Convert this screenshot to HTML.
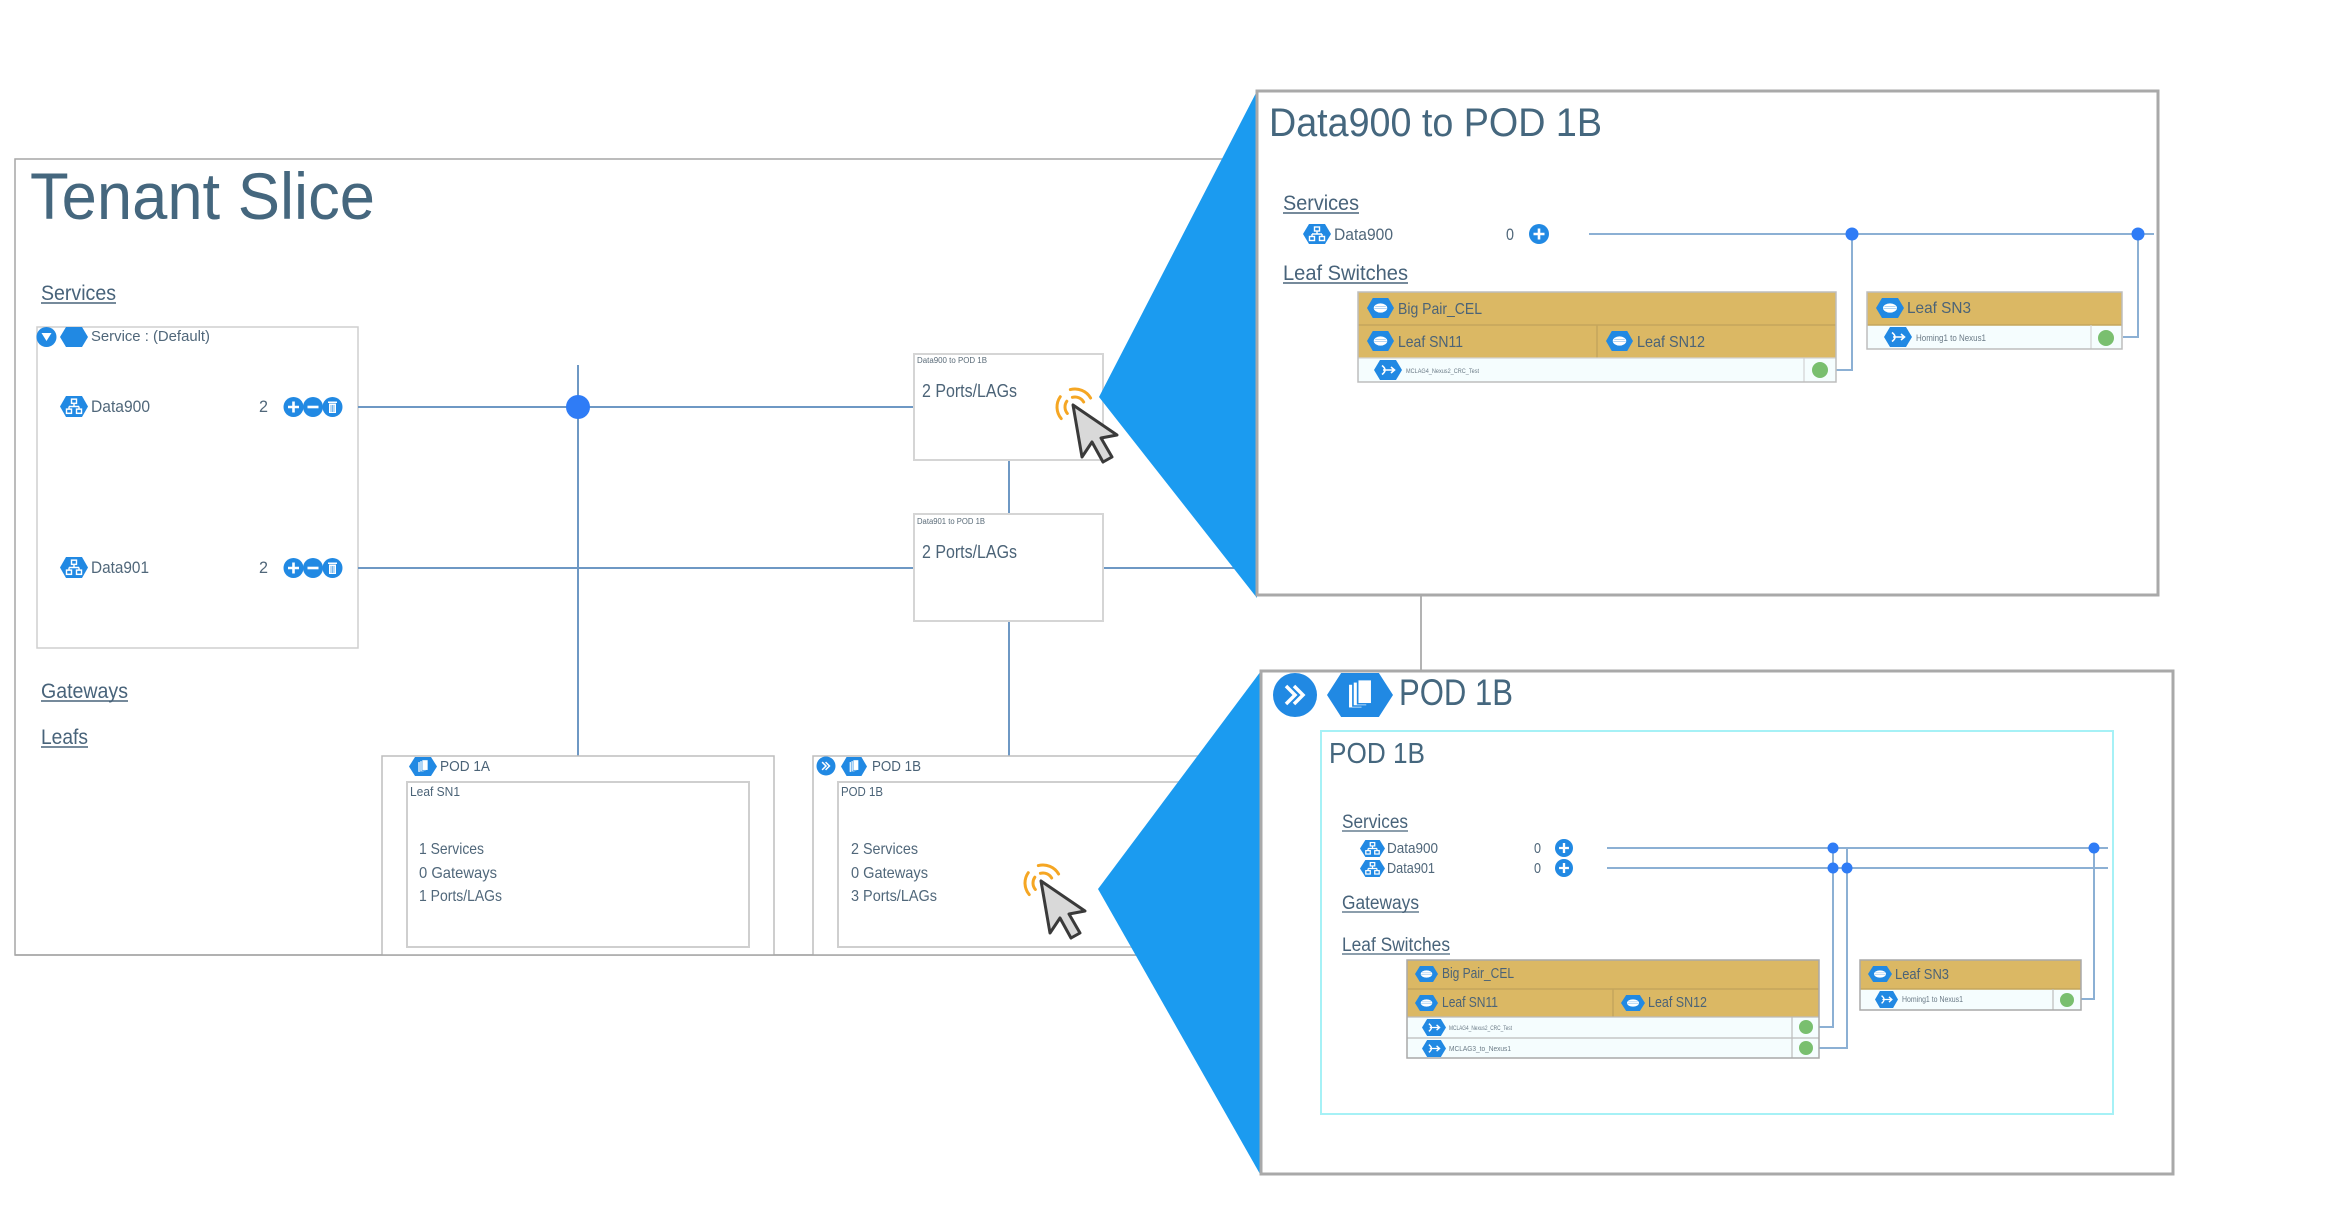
<!DOCTYPE html>
<html>
<head>
<meta charset="utf-8">
<style>
html,body{margin:0;padding:0;background:#fff;}
svg{display:block;}
text{font-family:"Liberation Sans",sans-serif;}
</style>
</head>
<body>
<svg width="2329" height="1210" viewBox="0 0 2329 1210" xmlns="http://www.w3.org/2000/svg">
<defs>
  <symbol id="hx" viewBox="0 0 28 20" preserveAspectRatio="none">
    <polygon points="0,10 6,0 22,0 28,10 22,20 6,20" fill="#2189e3"/>
  </symbol>
  <symbol id="net" viewBox="0 0 28 20" preserveAspectRatio="none">
    <polygon points="0,10 6,0 22,0 28,10 22,20 6,20" fill="#2189e3"/>
    <g fill="none" stroke="#fff" stroke-width="1.4">
      <rect x="11.5" y="3" width="5" height="4"/>
      <rect x="6.5" y="12.5" width="5" height="4"/>
      <rect x="16.5" y="12.5" width="5" height="4"/>
      <path d="M14 7V10M9 10H19M9 10V12.5M19 10V12.5"/>
    </g>
  </symbol>
  <symbol id="disk" viewBox="0 0 28 20" preserveAspectRatio="none">
    <polygon points="0,10 6,0 22,0 28,10 22,20 6,20" fill="#2189e3"/>
    <ellipse cx="14" cy="10" rx="7" ry="4.6" fill="#fff"/>
    <path d="M7.5 10.5H20.5M8.5 8.5H19.5" stroke="#9cc8f0" stroke-width=".8"/>
  </symbol>
  <symbol id="port" viewBox="0 0 28 20" preserveAspectRatio="none">
    <polygon points="0,10 6,0 22,0 28,10 22,20 6,20" fill="#2189e3"/>
    <path d="M8 5.5Q14 10 8 14.5M9 10H20M17 7L20.5 10L17 13" fill="none" stroke="#fff" stroke-width="1.6"/>
  </symbol>
  <symbol id="pod" viewBox="0 0 28 20" preserveAspectRatio="none">
    <polygon points="0,10 6,0 22,0 28,10 22,20 6,20" fill="#2189e3"/>
    <g fill="#fff" stroke="#2189e3" stroke-width=".7">
      <rect x="9" y="5" width="6" height="11"/>
      <rect x="11" y="4" width="6" height="11"/>
      <rect x="13" y="3" width="6" height="11"/>
    </g>
  </symbol>
  <symbol id="plus" viewBox="0 0 20 20">
    <circle cx="10" cy="10" r="10" fill="#2189e3"/>
    <path d="M10 4.5V15.5M4.5 10H15.5" stroke="#fff" stroke-width="2.6"/>
  </symbol>
  <symbol id="minus" viewBox="0 0 20 20">
    <circle cx="10" cy="10" r="10" fill="#2189e3"/>
    <path d="M4.5 10H15.5" stroke="#fff" stroke-width="2.6"/>
  </symbol>
  <symbol id="trash" viewBox="0 0 20 20">
    <circle cx="10" cy="10" r="10" fill="#2189e3"/>
    <rect x="6.5" y="6.5" width="7" height="9.5" fill="#fff"/>
    <rect x="5.5" y="4.5" width="9" height="1.5" fill="#fff"/>
    <path d="M8.5 8V15M10 8V15M11.5 8V15" stroke="#2189e3" stroke-width=".6"/>
  </symbol>
  <symbol id="chev" viewBox="0 0 44 44">
    <circle cx="22" cy="22" r="22" fill="#2189e3"/>
    <path d="M13 13L22 22L13 31M21 13L30 22L21 31" fill="none" stroke="#fff" stroke-width="3.5"/>
  </symbol>
  <g id="cursor">
    <g fill="none" stroke="#f5a623" stroke-width="3" stroke-linecap="round">
      <path d="M-5.66 8.43A10 10 0 0 1 -6.19 -3.74"/>
      <path d="M-11.79 13.57A18 18 0 0 1 -12.74 -8.32"/>
      <path d="M-0.59 -7.66A10 10 0 0 1 10.66 -3"/>
      <path d="M-2.66 -15.39A18 18 0 0 1 17.59 -7"/>
    </g>
    <polygon points="0,0 9,52 19,37 30,57 39,52 28,33 44,30" fill="#d9d9d9" stroke="#3a3a3a" stroke-width="3" stroke-linejoin="round"/>
  </g>
</defs>

<rect width="2329" height="1210" fill="#fff"/>

<!-- ===== Tenant Slice ===== -->
<path d="M1240 159H15V955H1200" fill="none" stroke="#a6a6a6" stroke-width="1.5"/>
<text x="30" y="219" font-size="66" fill="#45677e" textLength="345" lengthAdjust="spacingAndGlyphs">Tenant Slice</text>

<text x="41" y="300" font-size="21" fill="#48637a" textLength="75" lengthAdjust="spacingAndGlyphs">Services</text>
<line x1="41" y1="303" x2="116" y2="303" stroke="#48637a" stroke-width="1.5"/>

<rect x="37" y="327" width="321" height="321" fill="#fff" stroke="#cfcfcf" stroke-width="1.5"/>
<circle cx="46.5" cy="337" r="10" fill="#2189e3"/>
<polygon points="41.5,333 51.5,333 46.5,341" fill="#fff"/>
<use href="#hx" x="60" y="327" width="28" height="20"/>
<text x="91" y="341" font-size="15" fill="#50677a" textLength="119" lengthAdjust="spacingAndGlyphs">Service : (Default)</text>

<use href="#net" x="60" y="396" width="28" height="21"/>
<text x="91" y="412" font-size="17" fill="#50677a" textLength="59" lengthAdjust="spacingAndGlyphs">Data900</text>
<text x="259" y="412" font-size="17" fill="#50677a" textLength="9" lengthAdjust="spacingAndGlyphs">2</text>
<use href="#plus" x="283" y="397" width="21" height="20"/>
<use href="#minus" x="303" y="397" width="20" height="20"/>
<use href="#trash" x="322" y="397" width="21" height="20"/>

<use href="#net" x="60" y="557" width="28" height="21"/>
<text x="91" y="573" font-size="17" fill="#50677a" textLength="58" lengthAdjust="spacingAndGlyphs">Data901</text>
<text x="259" y="573" font-size="17" fill="#50677a" textLength="9" lengthAdjust="spacingAndGlyphs">2</text>
<use href="#plus" x="283" y="558" width="21" height="20"/>
<use href="#minus" x="303" y="558" width="20" height="20"/>
<use href="#trash" x="322" y="558" width="21" height="20"/>

<text x="41" y="698" font-size="21" fill="#48637a" textLength="87" lengthAdjust="spacingAndGlyphs">Gateways</text>
<line x1="41" y1="701" x2="128" y2="701" stroke="#48637a" stroke-width="1.5"/>
<text x="41" y="744" font-size="21" fill="#48637a" textLength="47" lengthAdjust="spacingAndGlyphs">Leafs</text>
<line x1="41" y1="747" x2="88" y2="747" stroke="#48637a" stroke-width="1.5"/>

<!-- connectors -->
<g stroke="#6e98c4" stroke-width="2" fill="none">
  <path d="M358 407H915"/>
  <path d="M358 568H915"/>
  <path d="M1103 568H1240"/>
  <path d="M578 365V756"/>
  <path d="M1009 460V514"/>
  <path d="M1009 621V756"/>
</g>
<circle cx="578" cy="407" r="12" fill="#2f7cf6"/>

<!-- link boxes -->
<rect x="914" y="354" width="189" height="106" fill="#fff" stroke="#d5d5d5" stroke-width="2"/>
<text x="917" y="363" font-size="8" fill="#5a6b78" textLength="70" lengthAdjust="spacingAndGlyphs">Data900 to POD 1B</text>
<text x="922" y="397" font-size="18" fill="#4b6377" textLength="95" lengthAdjust="spacingAndGlyphs">2 Ports/LAGs</text>

<rect x="914" y="514" width="189" height="107" fill="#fff" stroke="#d5d5d5" stroke-width="2"/>
<text x="917" y="524" font-size="8" fill="#5a6b78" textLength="68" lengthAdjust="spacingAndGlyphs">Data901 to POD 1B</text>
<text x="922" y="558" font-size="18" fill="#4b6377" textLength="95" lengthAdjust="spacingAndGlyphs">2 Ports/LAGs</text>

<!-- pods -->
<path d="M382 955V756H774V955" fill="#fff" stroke="#bdbdbd" stroke-width="1.5"/>
<use href="#pod" x="409" y="757" width="28" height="19"/>
<text x="440" y="771" font-size="15" fill="#4b6377" textLength="50" lengthAdjust="spacingAndGlyphs">POD 1A</text>
<rect x="407" y="782" width="342" height="165" fill="#fff" stroke="#cfcfcf" stroke-width="2"/>
<text x="410" y="796" font-size="13" fill="#4b6377" textLength="50" lengthAdjust="spacingAndGlyphs">Leaf SN1</text>
<text x="419" y="854" font-size="16" fill="#50677a" textLength="65" lengthAdjust="spacingAndGlyphs">1 Services</text>
<text x="419" y="878" font-size="16" fill="#50677a" textLength="78" lengthAdjust="spacingAndGlyphs">0 Gateways</text>
<text x="419" y="901" font-size="16" fill="#50677a" textLength="83" lengthAdjust="spacingAndGlyphs">1 Ports/LAGs</text>

<path d="M813 955V756H1205V955" fill="#fff" stroke="#bdbdbd" stroke-width="1.5"/>
<use href="#chev" x="816.5" y="756.5" width="19" height="19"/>
<use href="#pod" x="841" y="757" width="26" height="19"/>
<text x="872" y="771" font-size="15" fill="#4b6377" textLength="49" lengthAdjust="spacingAndGlyphs">POD 1B</text>
<rect x="838" y="782" width="342" height="165" fill="#fff" stroke="#cfcfcf" stroke-width="2"/>
<text x="841" y="796" font-size="13" fill="#4b6377" textLength="42" lengthAdjust="spacingAndGlyphs">POD 1B</text>
<text x="851" y="854" font-size="16" fill="#50677a" textLength="67" lengthAdjust="spacingAndGlyphs">2 Services</text>
<text x="851" y="878" font-size="16" fill="#50677a" textLength="77" lengthAdjust="spacingAndGlyphs">0 Gateways</text>
<text x="851" y="901" font-size="16" fill="#50677a" textLength="86" lengthAdjust="spacingAndGlyphs">3 Ports/LAGs</text>

<line x1="15" y1="955" x2="1200" y2="955" stroke="#a6a6a6" stroke-width="1.5"/>

<!-- cursors -->
<use href="#cursor" transform="translate(1073 405)"/>
<use href="#cursor" transform="translate(1041 881)"/>

<!-- callout polygons -->
<polygon points="1257,91 1099,397 1257,598" fill="#1b9bf0"/>
<polygon points="1261,671 1098,889 1260,1174" fill="#1b9bf0"/>

<!-- connector between panels -->
<line x1="1421" y1="595" x2="1421" y2="671" stroke="#b3b3b3" stroke-width="2"/>

<!-- ===== Top panel ===== -->
<rect x="1257" y="91" width="901" height="504" fill="#fff" stroke="#a9a9a9" stroke-width="3"/>
<text x="1269" y="136" font-size="40" fill="#45677e" textLength="333" lengthAdjust="spacingAndGlyphs">Data900 to POD 1B</text>

<text x="1283" y="210" font-size="21" fill="#48637a" textLength="76" lengthAdjust="spacingAndGlyphs">Services</text>
<line x1="1283" y1="213" x2="1359" y2="213" stroke="#48637a" stroke-width="1.5"/>
<use href="#net" x="1303" y="224" width="28" height="20"/>
<text x="1334" y="240" font-size="17" fill="#50677a" textLength="59" lengthAdjust="spacingAndGlyphs">Data900</text>
<text x="1506" y="240" font-size="17" fill="#50677a" textLength="8" lengthAdjust="spacingAndGlyphs">0</text>
<use href="#plus" x="1529" y="224" width="20" height="20"/>

<g stroke="#8cb0d4" stroke-width="2" fill="none">
  <path d="M1589 234H2154"/>
  <path d="M1852 234V370H1836"/>
  <path d="M2138 234V337H2123"/>
</g>
<circle cx="1852" cy="234" r="6.5" fill="#2f7cf6"/>
<circle cx="2138" cy="234" r="6.5" fill="#2f7cf6"/>

<text x="1283" y="280" font-size="21" fill="#48637a" textLength="125" lengthAdjust="spacingAndGlyphs">Leaf Switches</text>
<line x1="1283" y1="283" x2="1408" y2="283" stroke="#48637a" stroke-width="1.5"/>

<!-- Big Pair top -->
<rect x="1358" y="292" width="478" height="66" fill="#dbb864"/>
<rect x="1358" y="358" width="478" height="24" fill="#f5fdfe"/>
<g stroke="#c4a65c" stroke-width="1.5">
  <line x1="1358" y1="325" x2="1836" y2="325"/>
  <line x1="1597" y1="325" x2="1597" y2="358"/>
</g>
<line x1="1358" y1="358" x2="1836" y2="358" stroke="#d2d2d2" stroke-width="1.2"/>
<line x1="1804" y1="358" x2="1804" y2="382" stroke="#d2d2d2" stroke-width="1.2"/>
<rect x="1358" y="292" width="478" height="90" fill="none" stroke="#bdbdbd" stroke-width="1.5"/>
<use href="#disk" x="1367" y="298" width="27" height="20"/>
<text x="1398" y="314" font-size="16" fill="#4b6377" textLength="84" lengthAdjust="spacingAndGlyphs">Big Pair_CEL</text>
<use href="#disk" x="1367" y="331" width="27" height="20"/>
<text x="1398" y="347" font-size="16" fill="#4b6377" textLength="65" lengthAdjust="spacingAndGlyphs">Leaf SN11</text>
<use href="#disk" x="1606" y="331" width="27" height="20"/>
<text x="1637" y="347" font-size="16" fill="#4b6377" textLength="68" lengthAdjust="spacingAndGlyphs">Leaf SN12</text>
<use href="#port" x="1374" y="360" width="28" height="20"/>
<text x="1406" y="373" font-size="6" fill="#6a7a86" textLength="73" lengthAdjust="spacingAndGlyphs">MCLAG4_Nexus2_CRC_Test</text>
<circle cx="1820" cy="370" r="8" fill="#79bf6f"/>

<!-- Leaf SN3 top -->
<rect x="1867" y="292" width="255" height="33" fill="#dbb864"/>
<rect x="1867" y="325" width="255" height="24" fill="#f5fdfe"/>
<line x1="1867" y1="325" x2="2122" y2="325" stroke="#c4a65c" stroke-width="1.5"/>
<line x1="2091" y1="325" x2="2091" y2="349" stroke="#d2d2d2" stroke-width="1.2"/>
<rect x="1867" y="292" width="255" height="57" fill="none" stroke="#bdbdbd" stroke-width="1.5"/>
<use href="#disk" x="1876" y="298" width="28" height="20"/>
<text x="1907" y="313" font-size="16" fill="#4b6377" textLength="64" lengthAdjust="spacingAndGlyphs">Leaf SN3</text>
<use href="#port" x="1884" y="327" width="28" height="20"/>
<text x="1916" y="341" font-size="9" fill="#6a7a86" textLength="70" lengthAdjust="spacingAndGlyphs">Homing1 to Nexus1</text>
<circle cx="2106" cy="338" r="8" fill="#79bf6f"/>

<!-- ===== Bottom panel ===== -->
<rect x="1261" y="671" width="912" height="503" fill="#fff" stroke="#a9a9a9" stroke-width="3"/>
<use href="#chev" x="1273" y="673" width="44" height="44"/>
<use href="#pod" x="1327" y="673" width="66" height="44"/>
<text x="1399" y="705" font-size="37" fill="#45677e" textLength="114" lengthAdjust="spacingAndGlyphs">POD 1B</text>

<rect x="1321" y="731" width="792" height="383" fill="none" stroke="#a6f1f6" stroke-width="2"/>
<text x="1329" y="763" font-size="29" fill="#45677e" textLength="96" lengthAdjust="spacingAndGlyphs">POD 1B</text>

<text x="1342" y="828" font-size="19" fill="#48637a" textLength="66" lengthAdjust="spacingAndGlyphs">Services</text>
<line x1="1342" y1="831" x2="1408" y2="831" stroke="#48637a" stroke-width="1.3"/>
<use href="#net" x="1360" y="840" width="25" height="17"/>
<text x="1387" y="853" font-size="15" fill="#50677a" textLength="51" lengthAdjust="spacingAndGlyphs">Data900</text>
<text x="1534" y="853" font-size="15" fill="#50677a" textLength="7" lengthAdjust="spacingAndGlyphs">0</text>
<use href="#plus" x="1555" y="839" width="18" height="18"/>
<use href="#net" x="1360" y="860" width="25" height="17"/>
<text x="1387" y="873" font-size="15" fill="#50677a" textLength="48" lengthAdjust="spacingAndGlyphs">Data901</text>
<text x="1534" y="873" font-size="15" fill="#50677a" textLength="7" lengthAdjust="spacingAndGlyphs">0</text>
<use href="#plus" x="1555" y="859" width="18" height="18"/>

<g stroke="#8cb0d4" stroke-width="2" fill="none">
  <path d="M1607 848H2108"/>
  <path d="M1607 868H2108"/>
  <path d="M1833 848V1027H1819"/>
  <path d="M1847 848V1048H1819"/>
  <path d="M2094 848V999H2081"/>
</g>
<circle cx="1833" cy="848" r="5.5" fill="#2f7cf6"/>
<circle cx="1833" cy="868" r="5.5" fill="#2f7cf6"/>
<circle cx="1847" cy="868" r="5.5" fill="#2f7cf6"/>
<circle cx="2094" cy="848" r="5.5" fill="#2f7cf6"/>

<text x="1342" y="909" font-size="19" fill="#48637a" textLength="77" lengthAdjust="spacingAndGlyphs">Gateways</text>
<line x1="1342" y1="912" x2="1419" y2="912" stroke="#48637a" stroke-width="1.3"/>
<text x="1342" y="951" font-size="19" fill="#48637a" textLength="108" lengthAdjust="spacingAndGlyphs">Leaf Switches</text>
<line x1="1342" y1="954" x2="1450" y2="954" stroke="#48637a" stroke-width="1.3"/>

<!-- Big Pair bottom -->
<rect x="1407" y="960" width="412" height="57" fill="#dbb864"/>
<rect x="1407" y="1017" width="412" height="41" fill="#f5fdfe"/>
<g stroke="#c4a65c" stroke-width="1.5">
  <line x1="1407" y1="989" x2="1819" y2="989"/>
  <line x1="1613" y1="989" x2="1613" y2="1017"/>
</g>
<g stroke="#bcbcbc" stroke-width="1.2">
  <line x1="1407" y1="1017" x2="1819" y2="1017"/>
  <line x1="1407" y1="1038" x2="1819" y2="1038"/>
  <line x1="1792" y1="1017" x2="1792" y2="1058"/>
</g>
<rect x="1407" y="960" width="412" height="98" fill="none" stroke="#a9a9a9" stroke-width="1.5"/>
<use href="#disk" x="1415" y="966" width="23" height="16"/>
<text x="1442" y="978" font-size="15" fill="#4b6377" textLength="72" lengthAdjust="spacingAndGlyphs">Big Pair_CEL</text>
<use href="#disk" x="1415" y="995" width="23" height="16"/>
<text x="1442" y="1007" font-size="15" fill="#4b6377" textLength="56" lengthAdjust="spacingAndGlyphs">Leaf SN11</text>
<use href="#disk" x="1621" y="995" width="24" height="16"/>
<text x="1648" y="1007" font-size="15" fill="#4b6377" textLength="59" lengthAdjust="spacingAndGlyphs">Leaf SN12</text>
<use href="#port" x="1422" y="1019" width="24" height="17"/>
<text x="1449" y="1030" font-size="6" fill="#6a7a86" textLength="63" lengthAdjust="spacingAndGlyphs">MCLAG4_Nexus2_CRC_Test</text>
<use href="#port" x="1422" y="1040" width="24" height="17"/>
<text x="1449" y="1051" font-size="7" fill="#6a7a86" textLength="62" lengthAdjust="spacingAndGlyphs">MCLAG3_to_Nexus1</text>
<circle cx="1806" cy="1027" r="7" fill="#79bf6f"/>
<circle cx="1806" cy="1048" r="7" fill="#79bf6f"/>

<!-- Leaf SN3 bottom -->
<rect x="1860" y="960" width="221" height="29" fill="#dbb864"/>
<rect x="1860" y="989" width="221" height="21" fill="#f5fdfe"/>
<line x1="1860" y1="989" x2="2081" y2="989" stroke="#c4a65c" stroke-width="1.5"/>
<line x1="2053" y1="989" x2="2053" y2="1010" stroke="#bcbcbc" stroke-width="1.2"/>
<rect x="1860" y="960" width="221" height="50" fill="none" stroke="#a9a9a9" stroke-width="1.5"/>
<use href="#disk" x="1868" y="966" width="24" height="16"/>
<text x="1895" y="979" font-size="15" fill="#4b6377" textLength="54" lengthAdjust="spacingAndGlyphs">Leaf SN3</text>
<use href="#port" x="1875" y="991" width="23" height="17"/>
<text x="1902" y="1002" font-size="8" fill="#6a7a86" textLength="61" lengthAdjust="spacingAndGlyphs">Homing1 to Nexus1</text>
<circle cx="2067" cy="1000" r="7" fill="#79bf6f"/>

</svg>
</body>
</html>
